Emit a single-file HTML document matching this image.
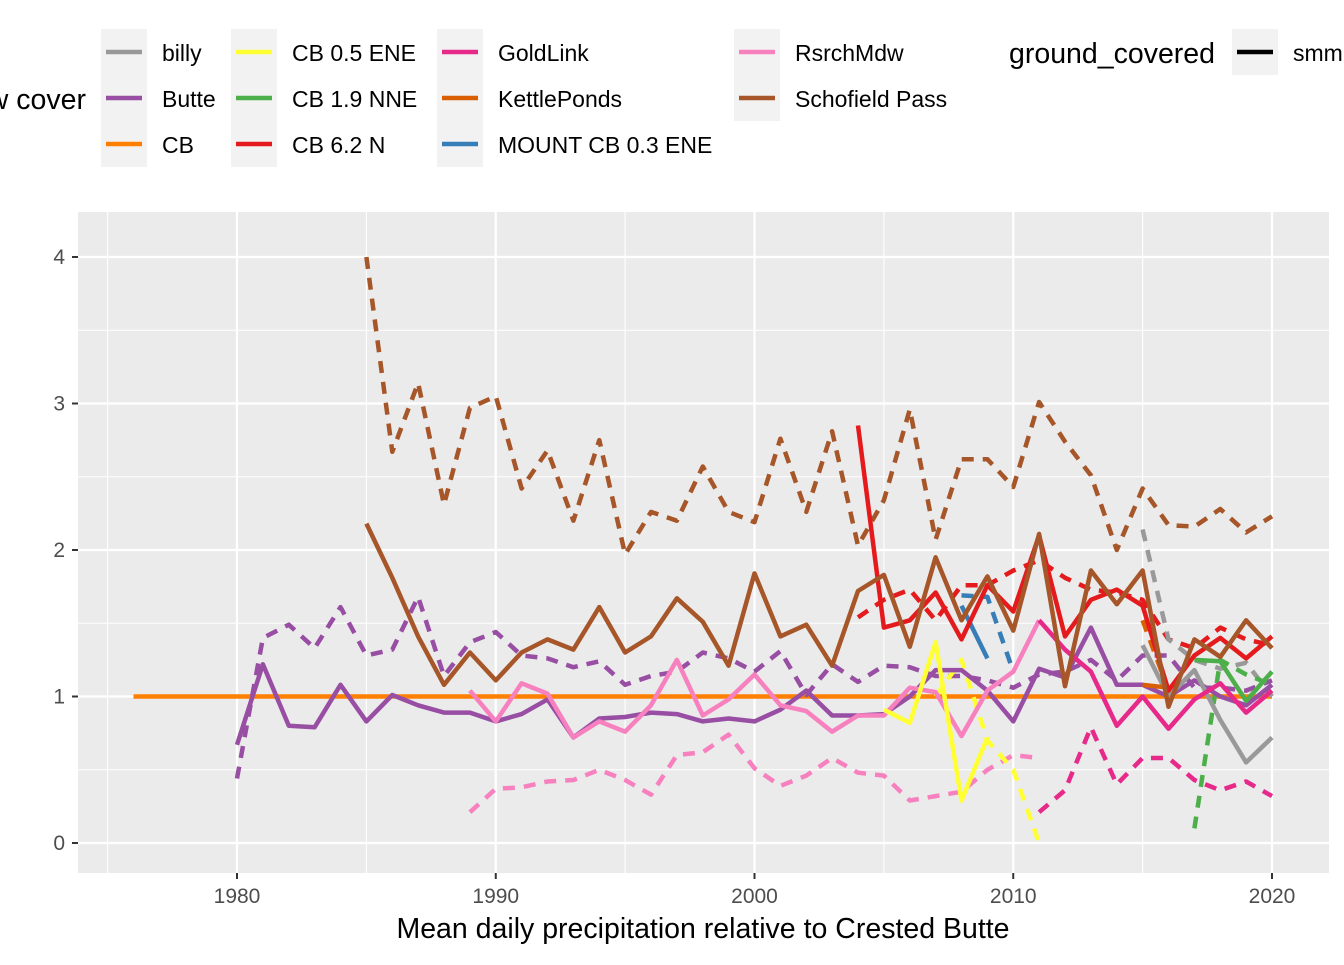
<!DOCTYPE html>
<html><head><meta charset="utf-8"><style>
body{margin:0;background:#fff;width:1344px;height:960px;overflow:hidden;font-family:"Liberation Sans",Arial,sans-serif}
svg text{font-family:"Liberation Sans",Arial,sans-serif}
</style></head><body>
<svg id="chart" width="1344" height="960" xmlns="http://www.w3.org/2000/svg">
<rect x="78" y="212" width="1251" height="661" fill="#ebebeb"/>
<g id="grid"></g>
<g id="series"></g>
<g id="axes"></g>
<g id="legend"></g>
<text x="703" y="938" font-size="28.5" text-anchor="middle" fill="#000">Mean daily precipitation relative to Crested Butte</text>
</svg>
<script>
const yTicks=[0,1,2,3,4];
const xTicks=[1980,1990,2000,2010,2020];
const seriesNames=["billy","Butte","CB","CB 0.5 ENE","CB 1.9 NNE","CB 6.2 N","GoldLink","KettlePonds","MOUNT CB 0.3 ENE","RsrchMdw","Schofield Pass"];
const seriesColors=["#999999","#984ea3","#ff7f00","#ffff33","#4daf4a","#e41a1c","#e7298a","#d95f02","#377eb8","#f781bf","#a65628"];
const cbStart=1976;
const cbVals=[1,1,1,1,1,1,1,1,1,1,1,1,1,1,1,1,1,1,1,1,1,1,1,1,1,1,1,1,1,1,1,1,1,1,1,1,1,1,1,1,1,1,1,1,1];
const butteSolid=[0.67,1.22,0.80,0.79,1.08,0.83,1.01,0.94,0.89,0.89,0.83,0.88,0.98,0.72,0.85,0.86,0.89,0.88,0.83,0.85,0.83,0.91,1.04,0.87,0.87,0.88,1.0,1.18,1.18,1.04,0.83,1.19,1.13,1.47,1.08,1.08,1.0,1.11,1.0,0.94,1.08];
const butteDash=[0.44,1.40,1.49,1.33,1.61,1.28,1.32,1.68,1.14,1.37,1.44,1.28,1.26,1.20,1.24,1.08,1.14,1.17,1.30,1.26,1.17,1.31,1.01,1.22,1.10,1.21,1.20,1.14,1.14,1.11,1.06,1.15,1.17,1.25,1.11,1.28,1.28,1.06,1.06,1.04,1.11];
const schoSolid=[2.18,1.81,1.41,1.08,1.30,1.11,1.30,1.39,1.32,1.61,1.30,1.41,1.67,1.51,1.21,1.84,1.41,1.49,1.21,1.72,1.83,1.34,1.95,1.52,1.82,1.45,2.11,1.07,1.86,1.63,1.86,0.93,1.39,1.27,1.52,1.33];
const schoDash=[4.0,2.67,3.14,2.31,2.97,3.05,2.42,2.68,2.2,2.75,1.97,2.26,2.2,2.57,2.26,2.19,2.76,2.26,2.81,2.03,2.34,2.96,2.07,2.62,2.62,2.43,3.01,2.74,2.51,2.0,2.42,2.17,2.16,2.28,2.12,2.23];
const rsrchSolid=[1.04,0.83,1.09,1.02,0.72,0.83,0.76,0.94,1.25,0.87,0.98,1.15,0.94,0.90,0.76,0.87,0.87,1.06,1.03,0.73,1.04,1.17,1.52];
const rsrchDash=[0.21,0.37,0.38,0.42,0.43,0.50,0.43,0.33,0.60,0.62,0.74,0.51,0.39,0.46,0.58,0.48,0.46,0.29,0.32,0.35,0.50,0.60,0.58];
const goldSolid=[1.52,1.32,1.17,0.80,1.0,0.78,0.98,1.09,0.89,1.04];
const goldDash=[0.21,0.36,0.79,0.40,0.58,0.58,0.43,0.36,0.42,0.32];
const cb62Solid=[2.85,1.47,1.52,1.71,1.39,1.76,1.58,2.10,1.41,1.66,1.73,1.62,1.04,1.28,1.40,1.26,1.41];
const cb62Dash=[1.54,1.66,1.73,1.52,1.76,1.76,1.86,1.93,1.81,1.73,1.71,1.66,1.39,1.33,1.47,1.39,1.35];
const cb05Solid=[0.91,0.82,1.37,0.29,0.72];
const cb05Dash=[1.0,1.25,0.70,0.50,0.0];
const mountSolid=[1.62,1.26];
const mountDash=[1.69,1.68,1.17];
const billySolid=[1.35,1.0,1.18,0.84,0.55,0.72];
const billyDash=[2.14,1.39,1.25,1.19,1.23,1.0];
const cb19Solid=[1.25,1.24,0.97,1.17];
const cb19Dash=[0.10,1.25,1.15,1.08];
const kettleSolid=[1.08,1.06];
const kettleDash=[1.52,1.04];

const lines=[
 ["CB",cbStart,false,cbVals],
 ["Butte",1980,true,butteDash],["Schofield Pass",1985,true,schoDash],["RsrchMdw",1989,true,rsrchDash],
 ["GoldLink",2011,true,goldDash],["CB 6.2 N",2004,true,cb62Dash],["CB 0.5 ENE",2007,true,cb05Dash],
 ["MOUNT CB 0.3 ENE",2008,true,mountDash],["billy",2015,true,billyDash],["CB 1.9 NNE",2017,true,cb19Dash],["KettlePonds",2015,true,kettleDash],
 ["Butte",1980,false,butteSolid],["RsrchMdw",1989,false,rsrchSolid],["CB 0.5 ENE",2005,false,cb05Solid],["MOUNT CB 0.3 ENE",2008,false,mountSolid],
 ["billy",2015,false,billySolid],["KettlePonds",2015,false,kettleSolid],["CB 1.9 NNE",2017,false,cb19Solid],["GoldLink",2011,false,goldSolid],
 ["CB 6.2 N",2004,false,cb62Solid],["Schofield Pass",1985,false,schoSolid]
];
const NS="http://www.w3.org/2000/svg";
const X=yr=>237+(yr-1980)*25.875;
const Y=v=>843-v*146.5;
function mk(tag,attrs,parent){const e=document.createElementNS(NS,tag);for(const k in attrs)e.setAttribute(k,attrs[k]);parent.appendChild(e);return e;}
const grid=document.getElementById('grid'),axes=document.getElementById('axes'),ser=document.getElementById('series'),leg=document.getElementById('legend');
for(let v=-0.5;v<=4.5;v+=1){const y=Y(v);if(y<212||y>873)continue;
 const l=mk('line',{x1:78,x2:1329,y1:y,y2:y,stroke:'#fff','stroke-width':1.1},grid);
 
 }
for(let yr=1975;yr<=2025;yr+=10){const x=X(yr);if(x<78||x>1329)continue;
 const l=mk('line',{x1:x,x2:x,y1:212,y2:873,stroke:'#fff','stroke-width':1.1},grid);
 
 }
yTicks.forEach(v=>{const y=Y(v);
 const l=mk('line',{x1:78,x2:1329,y1:y,y2:y,stroke:'#fff','stroke-width':2.2},grid);
 
 
 const t=mk('line',{x1:72,x2:78,y1:y,y2:y,stroke:'#333','stroke-width':2},axes);
 
 
 const tx=mk('text',{x:65,y:y+7,'font-size':21,'text-anchor':'end',fill:'#4d4d4d'},axes);tx.textContent=v;
 
 });
xTicks.forEach(yr=>{const x=X(yr);
 const l=mk('line',{x1:x,x2:x,y1:212,y2:873,stroke:'#fff','stroke-width':2.2},grid);
 
 
 const t=mk('line',{x1:x,x2:x,y1:873,y2:879,stroke:'#333','stroke-width':2},axes);
 
 
 const tx=mk('text',{x:x,y:903,'font-size':21,'text-anchor':'middle',fill:'#4d4d4d'},axes);tx.textContent=yr;
 
 });
lines.forEach(([name,start,dashed,vals])=>{
 const col=seriesColors[seriesNames.indexOf(name)];
 const pts=vals.map((v,i)=>X(start+i).toFixed(1)+','+Y(v).toFixed(1)).join(' ');
 const p=mk('polyline',{points:pts,fill:'none',stroke:col,'stroke-width':4.5,'stroke-linejoin':'round'},ser);
 if(dashed)p.setAttribute('stroke-dasharray','12 9');
 
 
});
const tt=mk('text',{x:86,y:109,'font-size':28.5,'text-anchor':'end',fill:'#000'},leg);tt.textContent='snow cover';


const colX=[101,231,437,734],labX=[162,292,498,795];
seriesNames.forEach((n,i)=>{const c=Math.floor(i/3),r=i%3;const y0=29+r*46;
 const bx=mk('rect',{x:colX[c],y:y0,width:46,height:46,fill:'#f2f2f2'},leg);
 
 
 const ln=mk('line',{x1:colX[c]+5,x2:colX[c]+41,y1:y0+23,y2:y0+23,stroke:seriesColors[i],'stroke-width':4.5},leg);
 
 
 const t=mk('text',{x:labX[c],y:y0+32,'font-size':23,fill:'#000'},leg);t.textContent=n;
 
 });
const gt=mk('text',{x:1009,y:63,'font-size':28.5,fill:'#000'},leg);gt.textContent='ground_covered';


const gb=mk('rect',{x:1232,y:29,width:46,height:46,fill:'#f2f2f2'},leg);


const gl=mk('line',{x1:1237,x2:1273,y1:52,y2:52,stroke:'#000','stroke-width':4.5},leg);


const gtx=mk('text',{x:1293,y:61,'font-size':23,fill:'#000'},leg);gtx.textContent='smm';


</script>
</body></html>
